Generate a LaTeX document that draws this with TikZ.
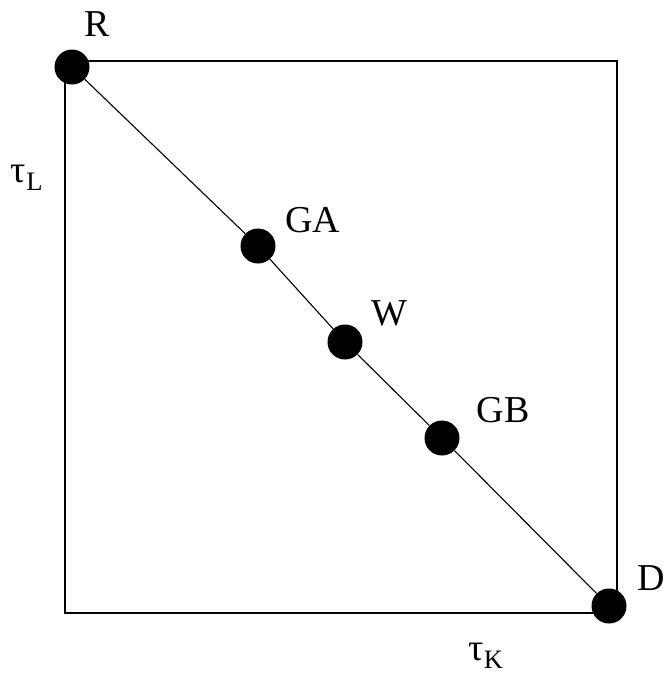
\documentclass[tikz,border=0pt]{standalone}
\usepackage{fontspec}
\setmainfont{Liberation Serif}
\usetikzlibrary{positioning}

\tikzset{
  dotnode/.style={circle, fill=black, draw=none, inner sep=0pt, minimum size=35},
  labnode/.style={inner sep=0pt, font=\fontsize{38}{42}\selectfont},
}

\begin{document}
\begin{tikzpicture}[x=1pt,y=1pt,yscale=-1,xscale=1]
\useasboundingbox (0,0) rectangle (664,675);

%Shape: Square
\draw [line width=1.3] (65,61) rectangle (617,613) ;

%Dots along the diagonal
\node [dotnode] (R) at (72,67) {};
\node [dotnode] (GA) at (258,246) {};
\node [dotnode] (W) at (345,342) {};
\node [dotnode] (GB) at (442,438) {};
\node [dotnode] (D) at (609,606) {};

%Diagonal
\draw [line width=1.1] (R) -- (GA) -- (W) -- (GB) -- (D) ;

% Text Node
\node [labnode] (lR) at (97,24) {R};
% Text Node
\node [labnode] (lGA) at (313,220) {GA};
% Text Node
\node [labnode] (lW) at (389,313) {W};
% Text Node
\node [labnode] (lGB) at (503,410) {GB};
% Text Node
\node [labnode] (lD) at (651,578) {D};
% Text Node
\node [labnode, anchor=base] (tauL) at (27,182) {τ\textsubscript{L}};
% Text Node
\node [labnode, anchor=base] (tauK) at (486,660) {τ\textsubscript{K}};

\end{tikzpicture}
\end{document}
